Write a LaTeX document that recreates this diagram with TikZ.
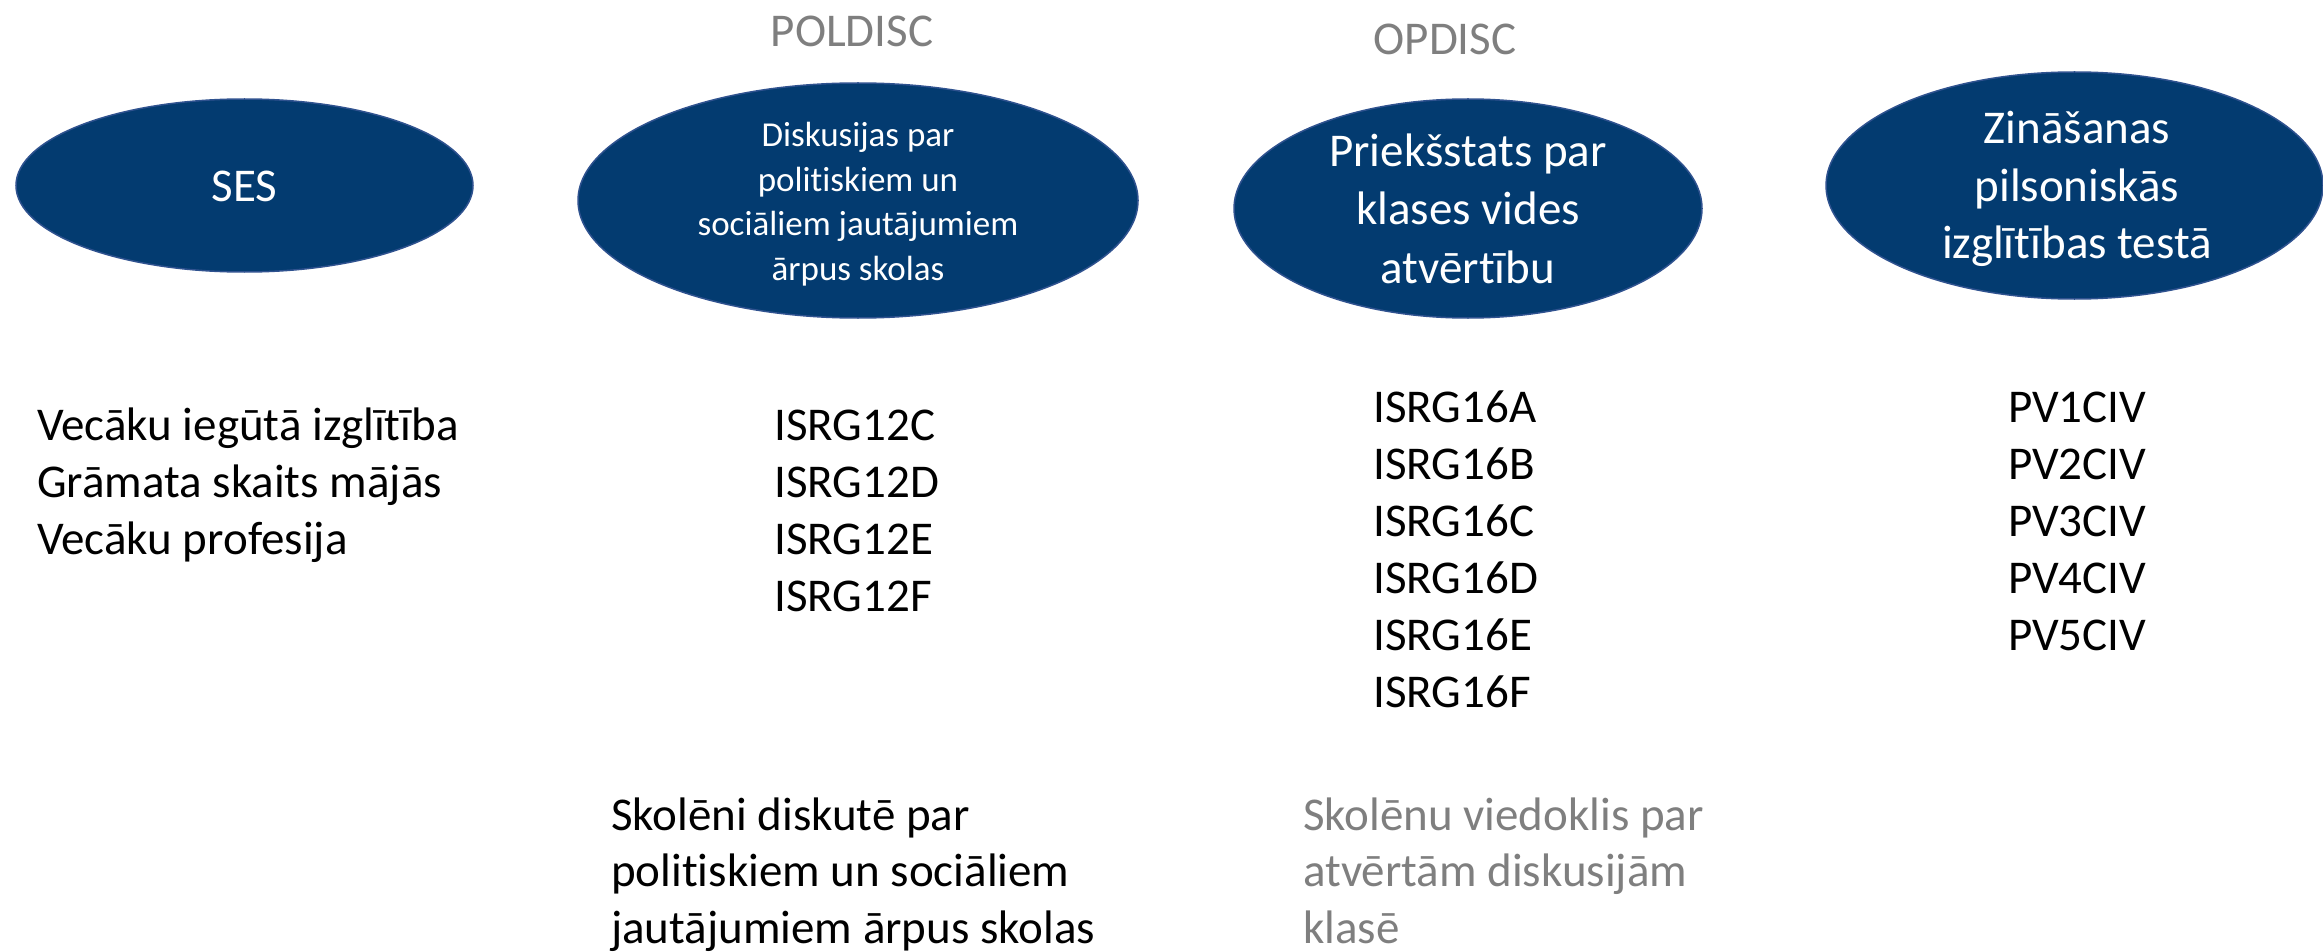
\documentclass[tikz,border=0pt]{standalone}
\usepackage{fontspec}
\setmainfont{Carlito}[Ligatures=NoCommon]
\usetikzlibrary{shapes.geometric}
\definecolor{navy}{RGB}{3,59,112}
\definecolor{navyedge}{RGB}{47,82,143}
\definecolor{labelgray}{RGB}{127,127,127}
\tikzset{
  oval/.style={ellipse, fill=navy, draw=navyedge, line width=1.5pt, inner sep=0pt},
  big/.style={font=\fontsize{47}{57}\selectfont, inner sep=0pt},
  small/.style={font=\fontsize{35}{44}\selectfont, inner sep=0pt},
  inside/.style={text=white},
  grey/.style={text=labelgray},
}
\begin{document}
\begin{tikzpicture}[x=1pt,y=-1pt]
\useasboundingbox (0,0) rectangle (2323,952);
% ellipses
\node[oval, minimum width=457pt, minimum height=173pt] (ses) at (244.5,185.5) {};
\node[oval, minimum width=560pt, minimum height=235pt] (pol) at (858,200.5) {};
\node[oval, minimum width=468pt, minimum height=219pt] (op) at (1468,208.5) {};
\node[oval, minimum width=497pt, minimum height=227pt] (civ) at (2074.5,185.5) {};
% ellipse texts
\node[big, inside, anchor=base] (sest) at (244.5,202) {SES};
\foreach \t [count=\i] in {Diskusijas par, politiskiem un, sociāliem jautājumiem, ārpus skolas}
  \node[small, inside, anchor=base] (polt\i) at (858,{147+44.5*(\i-1)}) {\t};
\foreach \t [count=\i] in {Priekšstats par, klases vides, atvērtību}
  \node[big, inside, anchor=base] (opt\i) at (1468,{167+58*(\i-1)}) {\t};
\foreach \t [count=\i] in {Zināšanas, pilsoniskās, izglītības testā}
  \node[big, inside, anchor=base] (civt\i) at (2077,{144+57*(\i-1)}) {\t};
% grey labels
\node[big, grey, anchor=base] (poldisc) at (852,47) {POLDISC};
\node[big, grey, anchor=base] (opdisc) at (1445,55) {OPDISC};
% variable lists
\foreach \t [count=\i] in {Vecāku iegūtā izglītība, Grāmata skaits mājās, Vecāku profesija}
  \node[big, anchor=base west] (sesv\i) at (37,{440+57*(\i-1)}) {\t};
\foreach \t [count=\i] in {ISRG12C, ISRG12D, ISRG12E, ISRG12F}
  \node[big, anchor=base west] (polv\i) at (774,{440+57*(\i-1)}) {\t};
\foreach \t [count=\i] in {ISRG16A, ISRG16B, ISRG16C, ISRG16D, ISRG16E, ISRG16F}
  \node[big, anchor=base west] (opv\i) at (1373,{422+57*(\i-1)}) {\t};
\foreach \t [count=\i] in {PV1CIV, PV2CIV, PV3CIV, PV4CIV, PV5CIV}
  \node[big, anchor=base west] (civv\i) at (2008,{422+57*(\i-1)}) {\t};
% bottom descriptions
\foreach \t [count=\i] in {Skolēni diskutē par, politiskiem un sociāliem, jautājumiem ārpus skolas}
  \node[big, anchor=base west] (pold\i) at (611,{830+56.5*(\i-1)}) {\t};
\foreach \t [count=\i] in {Skolēnu viedoklis par, atvērtām diskusijām, klasē}
  \node[big, grey, anchor=base west] (opd\i) at (1303,{830+56.5*(\i-1)}) {\t};
\end{tikzpicture}
\end{document}
